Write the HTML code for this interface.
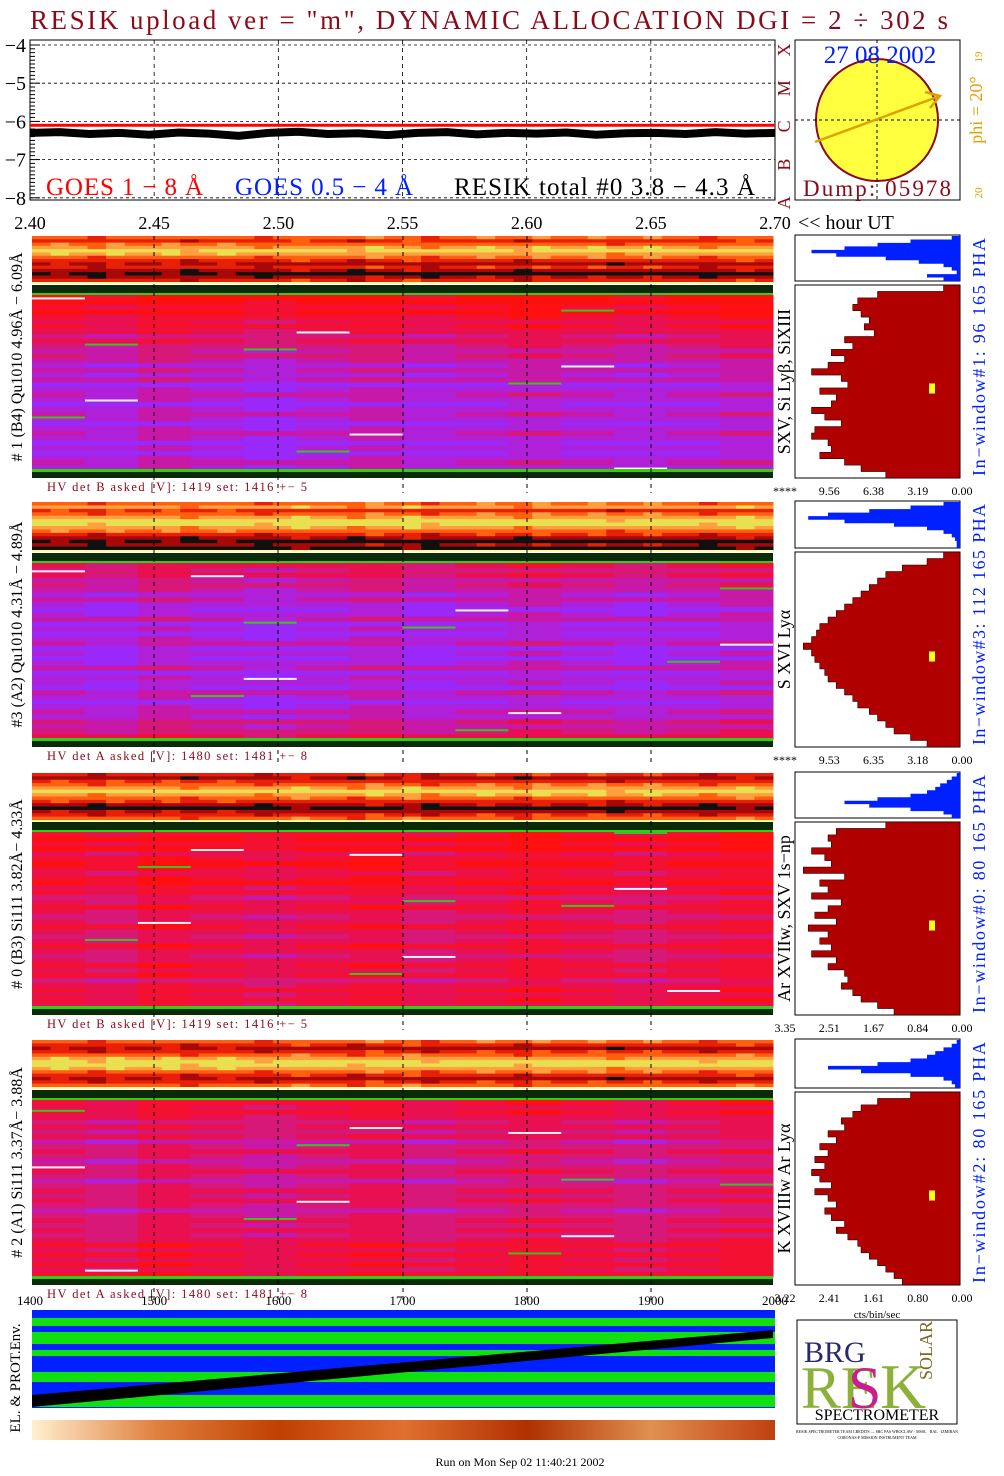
<!DOCTYPE html>
<html><head><meta charset="utf-8">
<style>
html,body{margin:0;padding:0;background:#fff;}
svg{display:block;font-family:"Liberation Serif",serif;}
</style></head>
<body>
<svg id="c" width="1004" height="1476" viewBox="0 0 1004 1476" xmlns="http://www.w3.org/2000/svg">
<text x="30" y="29" font-size="27" fill="#8b0a1a" textLength="918" lengthAdjust="spacing">RESIK upload ver = "m", DYNAMIC ALLOCATION  DGI =   2 ÷ 302 s</text>
<g id="goes"></g>
<g id="sun"></g>
<g id="specs"></g>
<g id="env"></g>
<g id="logo">
 <rect x="797" y="1320" width="160" height="104" fill="#fff" stroke="#000"/>
 <text x="804" y="1362" font-size="30" fill="#2a2a6a">BRG</text>
 <text x="801" y="1408" font-size="60" fill="#8db03a">RE</text>
 <text x="848" y="1408" font-size="60" fill="#c8208a">S</text>
 <text x="880" y="1408" font-size="64" fill="#8db03a">K</text>
 <text x="932" y="1380" font-size="18" fill="#7a6a20" transform="rotate(-90 932 1380)">SOLAR</text>
 <text x="877" y="1420" font-size="16" text-anchor="middle" fill="#000">SPECTROMETER</text>
 <text x="877" y="1433" font-size="4" text-anchor="middle" fill="#000">RESIK SPECTROMETER TEAM CREDITS — SRC PAS WROCLAW · MSSL · RAL · IZMIRAN</text>
 <text x="877" y="1439" font-size="4" text-anchor="middle" fill="#000">CORONAS-F MISSION INSTRUMENT TEAM</text>
</g>
<text x="520" y="1466" font-size="12" text-anchor="middle">Run on Mon Sep 02 11:40:21 2002</text>
</svg>
<script>
const NS='http://www.w3.org/2000/svg';
function mk(p,t,a,txt){const e=document.createElementNS(NS,t);for(const k in a)e.setAttribute(k,a[k]);if(txt!==undefined)e.textContent=txt;p.appendChild(e);return e;}

// ---------- data ----------
const goesYTicks=[-4,-5,-6,-7,-8];
const goesXTicks=['2.40','2.45','2.50','2.55','2.60','2.65','2.70'];
const goesLong=[-6.1,-6.1,-6.1,-6.1,-6.1,-6.1,-6.1,-6.1,-6.1,-6.1,-6.1,-6.1,-6.1];
const resikTotal=[-6.3,-6.28,-6.33,-6.3,-6.35,-6.29,-6.32,-6.38,-6.3,-6.27,-6.33,-6.31,-6.36,-6.3,-6.28,-6.34,-6.3,-6.32,-6.29,-6.35,-6.31,-6.3,-6.33,-6.28,-6.32,-6.3];
const frameTicks=['1400','1500','1600','1700','1800','1900','2000'];
const panelLabels=['# 1 (B4) Qu1010 4.96Å − 6.09Å','#3 (A2) Qu1010  4.31Å − 4.89Å','# 0 (B3) Si111  3.82Å− 4.33Å','# 2 (A1) Si111  3.37Å− 3.88Å'];
const lineLabels=['SXV, Si Lyβ, SiXIII','S XVI Lyα','Ar XVIIw,  SXV 1s−np','K XVIIIw  Ar Lyα'];
const windowLabels=['In−window#1:   96 165  PHA','In−window#3:   112 165  PHA','In−window#0:    80 165  PHA','In−window#2:    80 165  PHA'];
const hvLabels=['HV det B asked [V]:  1419 set:  1416  +−    5','HV det A asked [V]:  1480 set:  1481  +−    8','HV det B asked [V]:  1419 set:  1416  +−    5','HV det A asked [V]:  1480 set:  1481  +−    8'];
const histTicks=[['****','9.56','6.38','3.19','0.00'],['****','9.53','6.35','3.18','0.00'],['3.35','2.51','1.67','0.84','0.00'],['3.22','2.41','1.61','0.80','0.00']];
const rowLevels=[
 [0,0,1,0,1,2,1,2,3,2,3,4,3,4,5,4,5,4,6,5,4,5,6,5,4,5,6,5,4,5,6,5,6,5,4,5],
 [2,3,2,4,3,4,5,4,5,6,5,4,6,5,6,5,4,6,5,6,5,4,6,5,5,6,4,5,6,5,4,5,3,4,3,2],
 [1,0,1,0,2,1,0,1,2,1,0,2,1,3,2,1,2,3,2,1,2,3,2,1,2,3,2,1,2,1,3,2,1,2,1,2],
 [1,2,1,2,3,2,3,2,4,3,2,3,4,3,2,3,4,3,2,3,2,3,4,3,2,3,2,3,2,1,2,1,2,1,2,1]];
const colShift=[0,1,-1,0,1,0,-1,1,0,-1,0,1,0,-1];
const bandLevels=[
 [3,2,3,4,5,4,3,2,1,2,1,0,1,2],
 [3,4,2,3,4,5,5,4,3,2,1,0,1,0],
 [2,1,2,3,4,5,4,3,2,1,0,1,2,3],
 [3,2,1,2,3,4,5,5,4,3,2,1,2,3]];
const bandCols=[0,1,0,-1,1,0,0,1,-1,0,1,0,-1,0,1,0,0,-1,1,0,1,-1,0,0,1,0,-1,1,0,0,1,-1,0,1,0,0,-1,0,1,0];
const hist=[
 [0.1,0.5,0.62,0.65,0.6,0.55,0.58,0.52,0.7,0.65,0.78,0.7,0.8,0.9,0.72,0.68,0.85,0.75,0.78,0.9,0.82,0.72,0.88,0.9,0.8,0.78,0.85,0.7,0.6,0.45],
 [0.1,0.2,0.35,0.45,0.5,0.55,0.6,0.65,0.7,0.75,0.8,0.85,0.87,0.9,0.95,0.9,0.88,0.85,0.82,0.8,0.75,0.7,0.65,0.62,0.55,0.5,0.45,0.4,0.3,0.2],
 [0.45,0.75,0.8,0.78,0.9,0.82,0.78,0.95,0.7,0.85,0.8,0.9,0.72,0.8,0.88,0.75,0.92,0.8,0.85,0.78,0.9,0.75,0.8,0.7,0.68,0.72,0.65,0.6,0.5,0.4],
 [0.3,0.5,0.6,0.65,0.72,0.7,0.8,0.75,0.85,0.8,0.88,0.82,0.9,0.85,0.78,0.88,0.8,0.75,0.82,0.78,0.7,0.75,0.68,0.62,0.6,0.55,0.5,0.45,0.4,0.35]];
const pha=[
 [0.05,0.3,0.5,0.7,0.9,0.75,0.45,0.25,0.1,0.05,0.02,0.2,0.1],
 [0.1,0.3,0.55,0.8,0.92,0.7,0.4,0.2,0.1,0.05,0.03,0.02,0.02],
 [0.02,0.05,0.08,0.12,0.15,0.2,0.3,0.5,0.7,0.55,0.3,0.1,0.05],
 [0.02,0.05,0.1,0.15,0.2,0.3,0.5,0.8,0.6,0.3,0.1,0.05,0.03]];
const envLine=[0,1];

// ---------- GOES panel ----------
const g=document.getElementById('goes');
const gx0=30,gx1=775,gy=v=>45+(-4-v)*38.2;
mk(g,'rect',{x:gx0,y:40,width:gx1-gx0,height:160,fill:'#fff',stroke:'#000'});
goesYTicks.forEach(v=>{const y=gy(v);
 mk(g,'line',{x1:gx0,x2:gx1,y1:y,y2:y,stroke:'#000','stroke-dasharray':'3,3','stroke-width':0.8});
 const t=mk(g,'text',{x:26,y:y+7,'font-size':20,'text-anchor':'end'},'−'+(-v));
 
 for(let k=0;k<10;k++){const yy=y+k*3.8;if(yy<200)mk(g,'line',{x1:gx0,x2:gx0+(k?5:10),y1:yy,y2:yy,stroke:'#000'});}
});
goesXTicks.forEach((s,i)=>{const x=gx0+i*(gx1-gx0)/6;
 if(i>0&&i<6)mk(g,'line',{x1:x,x2:x,y1:40,y2:200,stroke:'#000','stroke-dasharray':'4,4','stroke-width':0.8});
 const t=mk(g,'text',{x:x,y:229,'font-size':18,'text-anchor':'middle'},s);
 
});
mk(g,'text',{x:798,y:229,'font-size':20},'<< hour UT');
let p=goesLong.map((v,i)=>`${gx0+i*(gx1-gx0)/(goesLong.length-1)},${gy(v)}`).join(' ');
const gl=mk(g,'polyline',{points:p,fill:'none',stroke:'#ff0000','stroke-width':3});

p=resikTotal.map((v,i)=>`${gx0+i*(gx1-gx0)/(resikTotal.length-1)},${gy(v)}`).join(' ');
const rl=mk(g,'polyline',{points:p,fill:'none',stroke:'#000','stroke-width':8});

[['GOES 1 − 8 Å',46,'#ff0000','legend-goes-long',157],['GOES 0.5 − 4 Å',235,'#0020ff','legend-goes-short',178],['RESIK total #0  3.8 − 4.3 Å',454,'#000','legend-resik-total',301]].forEach(l=>{
 const t=mk(g,'text',{x:l[1],y:195,'font-size':25,fill:l[2],textLength:l[4],lengthAdjust:'spacing'},l[0]);});
['X','M','C','B','A'].forEach((c,i)=>{const t=mk(g,'text',{x:790,y:gy(goesYTicks[i])+5,'font-size':18,fill:'#8b0a1a',transform:`rotate(-90 790 ${gy(goesYTicks[i])+5})`,'text-anchor':'middle'},c);
 });

// ---------- Sun panel ----------
const s=document.getElementById('sun');
mk(s,'rect',{x:795,y:40,width:165,height:160,fill:'#fff',stroke:'#000'});
mk(s,'circle',{cx:877,cy:120,r:61,fill:'#ffff40',stroke:'#8b0a1a','stroke-width':2});
mk(s,'line',{x1:877,x2:877,y1:40,y2:200,stroke:'#000','stroke-dasharray':'3,3'});
mk(s,'line',{x1:795,x2:960,y1:120,y2:120,stroke:'#000','stroke-dasharray':'3,3'});
mk(s,'line',{x1:815,x2:940,y1:142,y2:96,stroke:'#e0a000','stroke-width':2.5});
mk(s,'polyline',{points:'925,92 940,96 930,108',fill:'none',stroke:'#e0a000','stroke-width':2.5});
mk(s,'text',{x:880,y:63,'font-size':25,fill:'#0020ff','text-anchor':'middle'},'27 08 2002');
mk(s,'text',{x:877,y:196,'font-size':23,fill:'#8b0a1a','text-anchor':'middle',textLength:148,lengthAdjust:'spacing'},'Dump: 05978');
mk(s,'text',{x:982,y:110,'font-size':18,fill:'#e0a000','text-anchor':'middle',transform:'rotate(-90 982 110)'},'phi = 20°');
mk(s,'text',{x:982,y:57,'font-size':11,fill:'#e0a000','text-anchor':'middle',transform:'rotate(-90 982 57)'},'19');
mk(s,'text',{x:982,y:193,'font-size':11,fill:'#e0a000','text-anchor':'middle',transform:'rotate(-90 982 193)'},'20');

// ---------- Spectrogram panels ----------
const sp=document.getElementById('specs');
const panels=[{b0:236,b1:282,m0:285,m1:478,r0:285},{b0:502,b1:550,m0:553,m1:747,r0:552},{b0:773,b1:820,m0:822,m1:1015,r0:822},{b0:1040,b1:1087,m0:1090,m1:1285,r0:1092}];
const redPal=['#ff1010','#f41030','#e81050','#d81878','#c818a8','#b020d8','#9a28f8'];
const bandPal=['#101010','#a80808','#e82008','#ff6010','#ffa040','#e8e050'];
const X0=32,X1=773,NC=colShift.length;
panels.forEach((P,pi)=>{
 const G=mk(sp,'g',{});
 const bl=bandLevels[pi],bw=(X1-X0)/bandCols.length,bh=(P.b1-P.b0)/bl.length;
 bl.forEach((lv,ri)=>bandCols.forEach((cs,ci)=>{
  const L=Math.max(0,Math.min(5,lv+((ci+ri)%3===0?cs:0)));
  const r=mk(G,'rect',{x:X0+ci*bw,y:P.b0+ri*bh,width:bw+0.5,height:bh+0.5,fill:bandPal[L]});
  }));
 mk(G,'rect',{x:X0,y:P.b1,width:X1-X0,height:2,fill:'#fff8a0'});
 const rl=rowLevels[pi],cw=(X1-X0)/NC,top=P.m0+10,bot=P.m1-8,rh=(bot-top)/rl.length;
 mk(G,'rect',{x:X0,y:P.m0,width:X1-X0,height:10,fill:'#0a2a0a'});
 mk(G,'rect',{x:X0,y:P.m0+8,width:X1-X0,height:3,fill:'#30d010'});
 rl.forEach((lv,ri)=>colShift.forEach((cs,ci)=>{
  const L=Math.max(0,Math.min(6,lv+((ri+ci)%2?cs:0)));
  const r=mk(G,'rect',{x:X0+ci*cw,y:top+ri*rh,width:cw+0.5,height:rh+0.5,fill:redPal[L]});
  }));
 for(let k=0;k<6;k++){const ci=(k*5+pi*3)%NC,ri=(k*7+pi*2)%rl.length;
  mk(G,'rect',{x:X0+ci*cw,y:top+ri*rh+rh/2,width:cw,height:2,fill:'#fff0ff'});
  mk(G,'rect',{x:X0+((ci+4)%NC)*cw,y:top+((ri+11)%rl.length)*rh,width:cw,height:2,fill:'#40c020'});}
 mk(G,'rect',{x:X0,y:P.m1-9,width:X1-X0,height:3,fill:'#30d010'});
 mk(G,'rect',{x:X0,y:P.m1-6,width:X1-X0,height:6,fill:'#0a2a0a'});
 [154,278,403,527,651].forEach(x=>mk(G,'line',{x1:x,x2:x,y1:P.b0,y2:P.m1+15,stroke:'#000','stroke-dasharray':'4,4'}));
 const lb=mk(G,'text',{x:22,y:(P.b0+P.m1)/2,'font-size':16,'text-anchor':'middle',transform:`rotate(-90 22 ${(P.b0+P.m1)/2})`},panelLabels[pi]);
 
 const hv=mk(G,'text',{x:47,y:P.m1+13,'font-size':12.5,fill:'#8b0a1a',textLength:260,lengthAdjust:'spacing'},hvLabels[pi]);
 
 const hx0=795,hx1=960,pb1=P.r0-4;
 mk(G,'rect',{x:hx0,y:P.b0-1,width:hx1-hx0,height:pb1-P.b0+1,fill:'#fff',stroke:'#000'});
 const ph=pha[pi],phh=(pb1-P.b0)/ph.length;
 let pts=`${hx1},${P.b0} `+ph.map((v,i)=>`${hx1-v*(hx1-hx0)},${P.b0+i*phh} ${hx1-v*(hx1-hx0)},${P.b0+(i+1)*phh}`).join(' ')+` ${hx1},${pb1}`;
 const pp=mk(G,'polygon',{points:pts,fill:'#0020ff'});
 const hr1=P.m1;
 mk(G,'rect',{x:hx0,y:P.r0,width:hx1-hx0,height:hr1-P.r0,fill:'#fff',stroke:'#000'});
 const h=hist[pi],hh=(hr1-P.r0)/h.length;
 pts=`${hx1},${P.r0} `+h.map((v,i)=>`${hx1-v*(hx1-hx0)},${P.r0+i*hh} ${hx1-v*(hx1-hx0)},${P.r0+(i+1)*hh}`).join(' ')+` ${hx1},${hr1}`;
 const hp=mk(G,'polygon',{points:pts,fill:'#b00000',stroke:'#000','stroke-width':0.5});
 mk(G,'rect',{x:929,y:(P.r0+hr1)/2+2,width:6,height:10,fill:'#ffff20'});
 histTicks[pi].forEach((t,i)=>{const x=hx0-10+i*(hx1-hx0+12)/4;const e=mk(G,'text',{x:x,y:hr1+17,'font-size':12,'text-anchor':'middle'},t);
  });
 const ll=mk(G,'text',{x:790,y:(P.r0+hr1)/2,'font-size':18,'text-anchor':'middle',transform:`rotate(-90 790 ${(P.r0+hr1)/2})`},lineLabels[pi]);
 
 const wl=mk(G,'text',{x:985,y:(P.b0+hr1)/2,'font-size':18,fill:'#0020ff','text-anchor':'middle',transform:`rotate(-90 985 ${(P.b0+hr1)/2})`,textLength:hr1-P.b0-4,lengthAdjust:'spacing'},windowLabels[pi]);
 
});
mk(sp,'text',{x:877,y:1318,'font-size':11,'text-anchor':'middle'},'cts/bin/sec');

// ---------- frame axis & environment ----------
const e=document.getElementById('env');
frameTicks.forEach((t,i)=>{const x=30+i*(745/6);const el=mk(e,'text',{x:x,y:1305,'font-size':13,'text-anchor':'middle'},t);
 });
mk(e,'rect',{x:32,y:1310,width:743,height:98,fill:'#0020ff'});
[[1318,8],[1332,12],[1350,6],[1372,10],[1395,12]].forEach(r=>mk(e,'rect',{x:32,y:r[0],width:743,height:r[1],fill:'#10e010'}));
const ey=f=>1395-f*(1395-1330);
const dl=mk(e,'polygon',{points:`32,${ey(envLine[0])} 773,${ey(envLine[1])} 773,${ey(envLine[1])+8} 32,${ey(envLine[0])+12}`,fill:'#000'});

mk(e,'text',{x:20,y:1378,'font-size':15,'text-anchor':'middle',transform:'rotate(-90 20 1378)'},'EL. & PROT.Env.');
const grad=mk(e,'defs',{});const lg=mk(grad,'linearGradient',{id:'og'});
['#fff0d0','#e08040','#c04000','#e07030','#b03000','#e09050','#c04010'].forEach((c,i)=>mk(lg,'stop',{offset:(i/6),'stop-color':c}));
mk(e,'rect',{x:32,y:1420,width:743,height:20,fill:'url(#og)'});
</script>
</body></html>
